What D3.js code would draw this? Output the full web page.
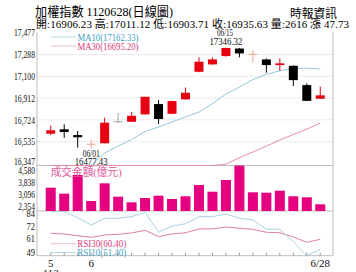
<!DOCTYPE html>
<html>
<head>
<meta charset="utf-8">
<script src="https://cdn.jsdelivr.net/npm/d3@7"></script>
<style>
  html, body { margin: 0; padding: 0; background: #fff; overflow: hidden; }
  svg { display: block; font-family: "Liberation Serif", "Noto Sans CJK TC", serif; }
</style>
</head>
<body>
<svg id="chart" width="356" height="272"></svg>
<script>
// trading days, 5/29 .. 6/28 (ROC year 112)
const dates = ['5/29','5/30','5/31','6/1','6/2','6/5','6/6','6/7','6/8','6/9','6/12',
  '6/13','6/14','6/15','6/16','6/19','6/20','6/21','6/26','6/27','6/28'];

const openP  = [16604,16642,16592,16510,16521,16709,16707,16771,16860,16776,16901,
  17139,17203,17275,17340,17287,17246,17197,17191,17024,16906.23];
const highP  = [16673,16685,16627,16549,16742,16782,16791,16923,16895,16890,17003,
  17264,17264,17346.32,17345,17326,17255,17255,17195,17039,17011.12];
const lowP   = [16592,16569,16483,16477.43,16521,16696,16705,16771,16687,16772,16898,
  17135,17199,17270,17264,17220,17131,17147,17016,16886,16903.71];
const closeP = [16633,16618,16573,16513,16699,16707,16759,16923,16731,16886,16958,
  17226,17246,17345,17298,17290,17197,17212,17067,16887.9,16935.63];

const ma10 = [16250,16280,16300,16330,16437,16497,16553,16623,16662,16705,16748,
  16791,16864,16947,17007,17072,17117,17148,17167,17171,17162.33];
const ma30 = [16020,16045,16070,16095,16120,16145,16170,16195,16215,16235,16255,
  16280,16305,16340,16397,16446,16497,16549,16597,16644,16695.20];

// 成交金額 (億元)
const volume = [3486,3115,4271,2663,3758,2929,2583,2849,2991,2787,2954,
  3653,3238,3962,4850,3201,3176,3300,2954,2892,2460];

const rsi10 = [85.2,85.2,79.8,73.2,79.3,79.3,80.7,84.6,66.7,72.3,74.4,
  80.7,80.7,83.1,79.3,77.7,69.4,69.4,58.3,45.7,51.4];
const rsi30 = [65.8,65.2,63.6,62.2,64.3,64.9,66.1,68.5,62.8,65.2,66.3,
  69.7,69.7,71.5,70.3,69.4,66.7,66.3,62.5,57.7,60.4];

const priceTicks = [17477,17288,17100,16912,16724,16535,16347];
const volTicks = [4580,3838,3096,2354];
const rsiTicks = [84,72,61,49];
const xTickDates = ['5/29','6/1','6/28'];
const xTickText = ['5','6','6/28'];

const svg = d3.select('#chart');
const left = 37, right = 333;
const pTop = 32, pBot = 165.5, vBot = 211, rBot = 255.7;

const x = d3.scaleBand().domain(dates).range([44, 327]).padding(0);
const cx = d => x(d) + x.bandwidth() / 2;

const yP = d3.scaleLinear().domain([16329, 17483]).range([pBot, pTop]).clamp(true);
const yV = d3.scaleLinear().domain([2045, 4858]).range([vBot, pBot]).clamp(true);
const yR = d3.scaleLinear().domain([45.7, 85.8]).range([rBot, vBot]).clamp(true);

const candles = dates.map((d, i) => ({
  date: d, o: openP[i], h: highP[i], l: lowP[i], c: closeP[i]
}));

// header
svg.append('text').attr('x', 35).attr('y', 15.5)
  .attr('font-size', 13).attr('textLength', 138).attr('lengthAdjust', 'spacingAndGlyphs')
  .text('加權指數 1120628(日線圖)');
svg.append('text').attr('x', 290).attr('y', 18)
  .attr('font-size', 12).attr('textLength', 47).attr('lengthAdjust', 'spacingAndGlyphs')
  .text('時報資訊');
svg.append('text').attr('x', 36).attr('y', 27.5)
  .attr('font-size', 11).attr('textLength', 313).attr('lengthAdjust', 'spacing')
  .text('開:16906.23 高:17011.12 低:16903.71 收:16935.63 量:2616 漲 47.73');

// grid
svg.append('g').selectAll('line')
  .data(priceTicks.slice(1, -1))
  .enter().append('line')
  .attr('x1', left).attr('x2', right)
  .attr('y1', d => yP(d)).attr('y2', d => yP(d))
  .attr('stroke', '#ececec');

// frame
const frame = svg.append('g').attr('stroke', '#bdbdbd').attr('fill', 'none');
frame.append('line').attr('x1', left).attr('x2', left).attr('y1', pTop).attr('y2', rBot);
frame.append('line').attr('x1', right).attr('x2', right).attr('y1', pTop).attr('y2', rBot);
[pBot, vBot, rBot].forEach(yy => {
  frame.append('line').attr('x1', left).attr('x2', right).attr('y1', yy).attr('y2', yy);
});

// left axes
function leftAxis(scale, ticks) {
  const g = svg.append('g')
    .attr('transform', `translate(${left},0)`)
    .call(d3.axisLeft(scale).tickValues(ticks).tickSize(0).tickPadding(2));
  g.select('.domain').remove();
  g.selectAll('text')
    .attr('font-family', '"Liberation Serif", serif')
    .attr('font-size', 10)
    .attr('fill', '#111')
    .attr('textLength', d => String(d).length * 4.2)
    .attr('lengthAdjust', 'spacingAndGlyphs');
  return g;
}
const pAxis = leftAxis(yP, priceTicks);
// bottom price label sits a little higher, clear of the volume panel
pAxis.selectAll('text').filter(d => d === priceTicks[priceTicks.length - 1]).attr('dy', '0.1em');
leftAxis(yV, volTicks);
leftAxis(yR, rsiTicks);

// moving averages (clamped to panel)
const maLine = arr => d3.line().x((d, i) => cx(dates[i])).y(d => yP(d))(arr);
svg.append('path').attr('d', maLine(ma10))
  .attr('fill', 'none').attr('stroke', '#93c7db').attr('stroke-width', 1);
svg.append('path').attr('d', maLine(ma30))
  .attr('fill', 'none').attr('stroke', '#e989ab').attr('stroke-width', 1);

// candles
const bodyW = 9;
const cg = svg.append('g');
candles.forEach(d => {
  const doji = Math.abs(d.c - d.o) < 4;
  const up = d.c >= d.o;
  const col = doji ? (up ? '#f2a48e' : '#a0a0a0') : (up ? '#e60012' : '#000');
  cg.append('line')
    .attr('x1', cx(d.date)).attr('x2', cx(d.date))
    .attr('y1', yP(d.h)).attr('y2', yP(d.l))
    .attr('stroke', col).attr('stroke-width', 1);
  if (doji) {
    cg.append('line')
      .attr('x1', cx(d.date) - bodyW / 2).attr('x2', cx(d.date) + bodyW / 2)
      .attr('y1', yP(d.c)).attr('y2', yP(d.c))
      .attr('stroke', col).attr('stroke-width', 1);
  } else {
    const top = yP(Math.max(d.o, d.c));
    const bot = yP(Math.min(d.o, d.c));
    cg.append('rect')
      .attr('x', cx(d.date) - bodyW / 2).attr('width', bodyW)
      .attr('y', top).attr('height', Math.max(1.5, bot - top))
      .attr('fill', col);
  }
});

// annotations high / low
const ann = svg.append('g').attr('font-size', 10).attr('text-anchor', 'middle').attr('fill', '#111');
ann.append('text').attr('x', cx('6/1')).attr('y', 156.5)
  .attr('textLength', 17).attr('lengthAdjust', 'spacingAndGlyphs').text('06/01');
ann.append('text').attr('x', cx('6/1')).attr('y', 164.8)
  .attr('textLength', 33).attr('lengthAdjust', 'spacingAndGlyphs').text('16477.43');
ann.append('text').attr('x', cx('6/15') - 1).attr('y', 35.5)
  .attr('textLength', 16).attr('lengthAdjust', 'spacingAndGlyphs').text('06/15');
ann.append('text').attr('x', cx('6/15')).attr('y', 45)
  .attr('textLength', 33).attr('lengthAdjust', 'spacingAndGlyphs').text('17346.32');

// MA legend
svg.append('line').attr('x1', 51).attr('x2', 76).attr('y1', 37).attr('y2', 37).attr('stroke', '#b5d9e8');
svg.append('line').attr('x1', 51).attr('x2', 76).attr('y1', 46).attr('y2', 46).attr('stroke', '#f2bccd');
svg.append('text').attr('x', 77.5).attr('y', 40.5).attr('font-size', 11).attr('fill', '#3f9fc6')
  .attr('textLength', 61).attr('lengthAdjust', 'spacingAndGlyphs').text('MA10(17162.33)');
svg.append('text').attr('x', 77.5).attr('y', 49.5).attr('font-size', 11).attr('fill', '#d93a7a')
  .attr('textLength', 61).attr('lengthAdjust', 'spacingAndGlyphs').text('MA30(16695.20)');

// volume bars
svg.append('g').selectAll('rect')
  .data(volume)
  .enter().append('rect')
  .attr('x', (d, i) => cx(dates[i]) - 5)
  .attr('width', 10)
  .attr('y', d => yV(d))
  .attr('height', d => vBot - yV(d))
  .attr('fill', '#e4007f');
svg.append('text').attr('x', 50.7).attr('y', 175.5).attr('font-size', 11).attr('fill', '#e0579a')
  .attr('textLength', 71).attr('lengthAdjust', 'spacingAndGlyphs').text('成交金額(億元)');

// RSI
const rsiLine = arr => d3.line().x((d, i) => cx(dates[i])).y(d => yR(d))(arr);
svg.append('path').attr('d', rsiLine(rsi30))
  .attr('fill', 'none').attr('stroke', '#e27ea2').attr('stroke-width', 1);
svg.append('path').attr('d', rsiLine(rsi10))
  .attr('fill', 'none').attr('stroke', '#a9d2e2').attr('stroke-width', 1);
svg.append('line').attr('x1', 51).attr('x2', 76).attr('y1', 243.7).attr('y2', 243.7).attr('stroke', '#f2bccd');
svg.append('line').attr('x1', 51).attr('x2', 76).attr('y1', 252.5).attr('y2', 252.5).attr('stroke', '#b5d9e8');
svg.append('text').attr('x', 77.3).attr('y', 247).attr('font-size', 11).attr('fill', '#d93a7a')
  .attr('textLength', 49).attr('lengthAdjust', 'spacingAndGlyphs').text('RSI30(60.40)');
svg.append('text').attr('x', 77.3).attr('y', 255.5).attr('font-size', 11).attr('fill', '#3f9fc6')
  .attr('textLength', 49).attr('lengthAdjust', 'spacingAndGlyphs').text('RSI10(51.40)');

// x axis
const xa = svg.append('g')
  .attr('transform', `translate(0,${rBot})`)
  .call(d3.axisBottom(x).tickSizeInner(-3).tickSizeOuter(0).tickPadding(4)
    .tickFormat(d => {
      const k = xTickDates.indexOf(d);
      return k < 0 ? '' : xTickText[k];
    }));
xa.select('.domain').remove();
xa.selectAll('line').attr('stroke', '#999');
xa.selectAll('text').attr('font-family', '"Liberation Serif", serif')
  .attr('font-size', 11).attr('fill', '#111');
svg.append('text').attr('x', cx('5/29')).attr('y', 276.5).attr('text-anchor', 'middle')
  .attr('font-size', 11).attr('fill', '#111').text('112');
</script>
</body>
</html>
